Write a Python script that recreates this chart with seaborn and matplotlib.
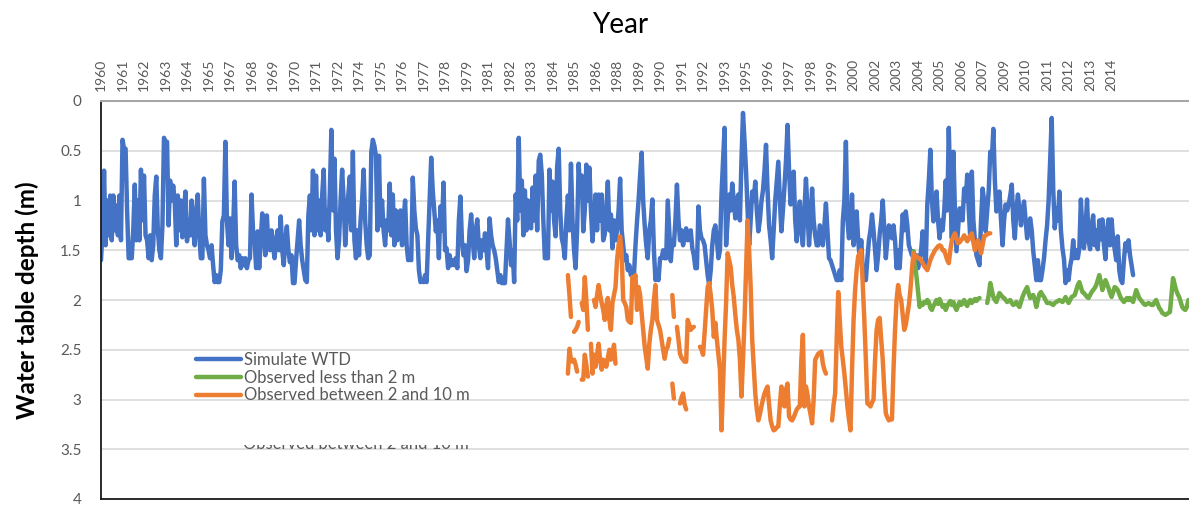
import numpy as np
import pandas as pd
import matplotlib
matplotlib.use("Agg")
import matplotlib.pyplot as plt
from matplotlib.lines import Line2D
from matplotlib.transforms import Bbox
import seaborn as sns

nan = np.nan

# Category labels shown along the top axis (one every 14 monthly steps)
year_labels = ["1960", "1961", "1962", "1963", "1964", "1965", "1967", "1968",
               "1969", "1970", "1971", "1972", "1974", "1975", "1976", "1977",
               "1978", "1979", "1981", "1982", "1983", "1984", "1985", "1986",
               "1988", "1989", "1990", "1991", "1992", "1993", "1995", "1996",
               "1997", "1998", "1999", "2000", "2002", "2003", "2004", "2005",
               "2006", "2007", "2009", "2010", "2011", "2012", "2013", "2014"]
label_step = 14

depth_ticks = [0, 0.5, 1, 1.5, 2, 2.5, 3, 3.5, 4]
depth_labels = ["0", "0.5", "1", "1.5", "2", "2.5", "3", "3.5", "4"]

# Simulated water table depth (m), monthly, starting at month 0
sim_wtd_a = [
    1.60, 1.30, 0.70, 1.45, 1.00, 1.35, 0.95, 1.40, 0.95, 1.30,
    1.05, 1.35, 0.95, 1.40, 0.39, 0.48, 0.48, 1.10, 1.58, 1.58,
    1.58, 1.30, 0.84, 1.40, 1.00, 1.40, 0.69, 1.20, 0.75, 1.35,
    1.40, 1.58, 1.35, 1.60, 1.45, 0.95, 0.76, 1.30, 1.50, 1.58,
    1.25, 0.37, 0.41, 0.41, 1.25, 0.80, 1.00, 0.85, 1.00, 1.45,
    0.95, 1.30, 1.00, 1.37, 1.10, 0.91, 1.41, 1.20, 1.35, 1.00,
    1.30, 1.45, 1.10, 0.94, 1.35, 1.58, 1.58, 0.78, 1.35, 1.45,
    1.50, 1.58, 1.45, 1.65, 1.82, 1.75, 1.82, 1.82, 1.70, 1.21,
    1.15, 0.41, 1.20, 1.45, 1.18, 1.58, 1.30, 0.81, 1.45, 1.60,
    1.55, 1.68, 1.58, 1.65, 1.58, 1.68, 1.60, 1.58, 0.94, 1.31,
    1.40, 1.68, 1.31, 1.68, 1.40, 1.13, 1.30, 1.55, 1.15, 1.45,
    1.50, 1.30, 1.45, 1.58, 1.40, 1.30, 1.50, 1.16, 1.50, 1.65,
    1.40, 1.26, 1.50, 1.62, 1.55, 1.83, 1.83, 1.60, 1.40, 1.20,
    1.45, 1.60, 1.70, 1.80, 1.82, 1.15, 0.95, 1.30, 0.70, 1.35,
    0.75, 1.30, 1.00, 1.35, 0.95, 0.69, 1.30, 1.10, 1.40, 0.90,
    0.29, 1.10, 0.58, 1.30, 1.58, 1.40, 1.00, 0.69, 1.00, 1.45,
]
sim_wtd_b = [
    1.20, 0.95, 0.76, 1.30, 0.51, 1.40, 1.58, 1.30, 1.55, 1.20,
    1.00, 0.69, 1.20, 1.45, 1.58, 1.55, 0.51, 0.39, 0.45, 0.55,
    1.30, 0.55, 1.25, 1.00, 1.30, 1.45, 1.20, 1.30, 0.83, 1.35,
    0.94, 1.45, 1.10, 1.40, 1.30, 1.10, 1.45, 1.20, 1.00, 1.45,
    1.60, 1.58, 1.60, 0.77, 1.10, 1.28, 1.35, 1.70, 1.82, 1.80,
    1.82, 1.75, 1.82, 1.40, 1.00, 0.57, 0.90, 1.10, 1.31, 1.20,
    1.58, 1.06, 1.30, 0.82, 1.50, 1.48, 1.68, 1.55, 1.65, 1.60,
    1.65, 1.58, 1.68, 1.20, 0.96, 1.40, 1.55, 1.45, 1.71, 1.60,
    1.30, 1.14, 1.40, 1.58, 1.30, 1.19, 1.45, 1.58, 1.40, 1.50,
    1.33, 1.50, 1.68, 1.18, 1.35, 1.45, 1.50, 1.58, 1.70, 1.82,
    1.75, 1.83, 1.83, 1.83, 1.50, 1.19, 1.40, 1.65, 1.50, 1.82,
    0.94, 1.20, 0.37, 1.10, 0.80, 1.35, 0.90, 1.30, 1.00, 1.20,
    1.28, 0.87, 1.20, 0.75, 1.30, 0.60, 0.54, 0.74, 1.20, 1.58,
    1.58, 1.58, 0.69, 1.10, 0.81, 1.20, 1.36, 0.66, 0.48, 1.10,
    1.38, 1.45, 1.58, 1.20, 0.95, 1.30, 0.63, 1.20, 1.50, 1.68,
    1.30, 0.63, 0.90, 0.75, 1.31, 1.10, 0.64, 1.00, 0.67, 1.10,
]
sim_wtd_c = [
    1.41, 1.20, 0.94, 1.30, 0.94, 1.20, 0.94, 1.40, 1.34, 1.10,
    0.81, 1.30, 1.14, 1.48, 1.20, 1.40, 1.30, 1.10, 0.78, 1.30,
    1.45, 1.60, 1.55, 1.70, 1.65, 1.75, 1.70, 1.75, 1.45, 1.21,
    1.00, 0.75, 0.52, 1.00, 1.25, 1.45, 1.58, 1.30, 1.20, 0.99,
    1.50, 1.80, 1.70, 1.80, 1.58, 1.58, 1.50, 1.58, 1.58, 1.00,
    1.30, 1.61, 1.40, 1.45, 1.20, 0.84, 1.20, 1.40, 1.30, 1.45,
    1.35, 1.28, 1.40, 1.38, 1.30, 1.48, 1.55, 1.68, 1.68, 1.06,
    1.30, 1.38, 1.40, 1.45, 1.60, 1.75, 1.85, 1.70, 1.45, 1.30,
    1.25, 1.40, 1.58, 1.50, 0.94, 0.60, 0.27, 1.45, 1.20, 0.94,
    1.10, 0.83, 1.00, 1.18, 1.00, 0.94, 1.20, 0.60, 0.12, 0.40,
    0.71, 1.10, 1.45, 1.20, 0.91, 1.00, 0.81, 1.10, 1.31, 1.20,
    1.01, 0.90, 0.70, 0.44, 0.90, 1.25, 1.40, 1.58, 1.30, 1.00,
    0.80, 0.61, 1.00, 1.31, 1.10, 0.86, 0.60, 0.24, 0.70, 1.04,
    0.90, 0.71, 1.20, 1.41, 1.20, 1.01, 1.30, 1.45, 1.10, 0.78,
    1.10, 1.45, 1.20, 0.88, 1.20, 1.35, 1.45, 1.45, 1.25, 1.35,
    1.45, 1.25, 1.03, 1.30, 1.58, 1.60, 1.65, 1.70, 1.75, 1.80,
]
sim_wtd_d = [
    1.80, 1.70, 1.80, 1.21, 1.00, 0.41, 1.20, 1.38, 1.20, 0.94,
    1.45, 1.30, 1.11, 1.40, 1.58, 1.40, 1.70, 1.80, 1.80, 1.58,
    1.40, 1.30, 1.14, 1.30, 1.50, 1.70, 1.55, 1.34, 1.20, 1.00,
    1.30, 1.58, 1.40, 1.25, 1.30, 1.38, 1.25, 1.40, 1.68, 1.50,
    1.68, 1.40, 1.14, 1.30, 1.11, 1.25, 1.45, 1.50, 1.55, 1.51,
    1.60, 1.55, 1.68, 1.60, 1.50, 1.31, 1.50, 1.65, 1.04, 0.80,
    0.49, 1.00, 1.21, 1.10, 0.91, 1.20, 1.38, 1.20, 1.30, 1.11,
    0.80, 1.10, 0.27, 0.90, 1.38, 0.51, 1.10, 1.51, 1.30, 1.08,
    1.08, 1.20, 0.88, 1.00, 0.74, 1.10, 1.38, 0.71, 1.20, 1.40,
    1.55, 1.60, 1.65, 1.20, 0.88, 1.00, 1.31, 1.10, 0.90, 0.51,
    0.60, 0.28, 0.80, 1.11, 1.00, 0.91, 1.20, 1.45, 1.20, 1.04,
    1.10, 1.04, 0.95, 0.84, 1.20, 1.38, 1.10, 0.94, 1.10, 1.25,
    1.10, 1.01, 1.20, 1.38, 1.25, 1.18, 1.30, 1.51, 1.65, 1.80,
    1.60, 1.80, 1.80, 1.70, 1.58, 1.40, 1.25, 1.00, 0.60, 0.17,
    0.89, 1.28, 1.08, 1.20, 0.91, 1.30, 1.48, 1.59, 1.83, 1.70,
    1.80, 1.66, 1.58, 1.40, 1.58, 1.50, 1.58, 1.48, 0.99, 1.30,
    1.48, 1.30, 0.99, 1.40, 1.49, 1.25, 1.15, 1.45, 1.30, 1.49,
    1.20, 1.39, 1.19, 1.45, 1.59, 1.30, 1.19, 1.45, 1.19, 1.39,
    1.49, 1.60, 1.36, 1.70, 1.80, 1.83, 1.60, 1.43, 1.50, 1.40,
    1.55, 1.65, 1.75,
]
sim_start = 0

# Observed depth, wells shallower than 2 m (starts at month 529)
obs_shallow_start = 529
obs_shallow = [
    1.51, 1.65, 1.77, 1.92, 2.07, 2.03, 2.05, 2.02, 2.03, 2.00,
    2.02, 2.08, 2.10, 2.06, 2.03, 2.00, 2.04, 1.99, 2.03, 2.07,
    2.05, 2.10, 2.06, 2.03, 2.01, 2.05, 2.02, 2.07, 2.10, 2.06,
    2.02, 2.05, 2.03, 2.00, 2.04, 2.06, 2.02, 2.00, 2.03, 2.01,
    1.99, 2.01, 1.99, 1.98, nan, nan, nan, nan,
    2.03, 1.95, 1.83, 1.90, 1.97, 2.00, 2.02, 1.97, 1.93, 1.95,
    1.97, 1.98, 2.00, 2.02, 2.01, 2.00, 2.03, 2.05, 2.04, 2.02,
    2.05, 2.07, 2.02, 1.97, 1.93, 1.90, 1.87, 1.93, 1.98, 1.96,
    1.95, 2.00, 2.07, 2.00, 1.94, 1.92, 1.95, 1.97, 2.00, 2.03,
    2.03, 2.03, 2.04, 2.05, 2.03, 2.02, 2.01, 2.00, 2.01, 2.02,
    2.00, 1.97, 2.00, 2.03, 2.00, 1.97, 1.96, 1.95, 1.90, 1.85,
    1.82, 1.87, 1.92, 1.93, 1.95, 1.97, 1.98, 1.95, 1.92, 1.90,
    1.88, 1.85, 1.80, 1.75, 1.82, 1.90, 1.85, 1.80, 1.84, 1.88,
    1.93, 1.97, 1.92, 1.87, 1.88, 1.90, 1.94, 1.98, 2.00, 2.02,
    2.00, 1.98, 2.00, 1.98, 2.00, 2.02, 1.96, 1.90, 1.94, 1.98,
    2.00, 2.02, 2.04, 2.05, 2.04, 2.03, 2.04, 2.05, 2.05, 2.02,
    2.00, 2.04, 2.08, 2.10, 2.13, 2.14, 2.15, 2.14, 2.13, 2.12,
    1.95, 1.78, 1.84, 1.90, 1.94, 1.97, 2.02, 2.07, 2.09, 2.10,
    2.07, 2.00,
]

# Observed depth, wells between 2 and 10 m (starts at month 304)
obs_deep_start = 304
obs_deep = [
    1.75, 1.95, 2.17, nan, 2.32, 2.30, 2.27, 2.22, nan, 2.03,
    2.10, 1.77, 2.00, 2.30, nan, nan, nan, 2.00, 2.07, 1.95,
    1.85, 1.95, 2.03, 2.10, 2.20, 2.05, 1.98, 2.20, 2.30, 2.03,
    1.95, 1.87, 1.60, 1.45, 1.36, 1.53, 2.00, 2.03, 2.07, 2.20,
    2.22, 2.23, 1.77, 1.80, 1.75, 2.10, 1.87, 1.95, 2.13, 2.30,
    2.47, 2.58, 2.69, 2.44, 2.30, 2.20, 2.00, 1.85, 2.20, 2.25,
    2.30, 2.40, 2.50, 2.59, 2.50, 2.47, 2.39, nan, 1.95, 2.17,
    nan, 2.27, 2.40, 2.54, 2.58, 2.60, 2.62, 2.62, 2.20, 2.25,
    2.30, 2.28, 2.27, nan, nan, nan, 2.47, 2.50, 2.55, 2.33,
    2.10, 1.87, 1.83, 1.95, 2.10, 2.37, 2.23, 2.40, 2.55, 2.70,
    3.31, 2.87, 2.40, 2.03, 1.53, 1.60, 1.67, 1.85, 1.97, 2.15,
    2.30, 2.40, 2.60, 2.97, 2.60, 2.20, 1.70, 1.20, 1.50, 1.87,
    2.40, 2.67, 2.94, 3.10, 3.21, 3.15, 3.07, 3.00, 2.94, 2.90,
    2.87, 3.05, 3.21, 3.27, 3.31, 3.30, 3.28, 3.27, 3.05, 2.87,
    2.97, 3.07, 2.90, 2.84, 3.17, 3.20, 3.21, 3.18, 3.14, 3.10,
    3.08, 3.07, 2.60, 2.35, 3.07, 2.87, 2.95, 3.07, 3.15, 3.24,
    3.00, 2.60, 2.57, 2.54, 2.53, 2.52, 2.64, 2.70, 2.74, nan,
    nan, nan, 3.21, 3.05, 2.94, 2.40, 1.92, 2.20, 2.47, 2.60,
    2.74, 2.90, 3.07, 3.20, 3.31, 2.70, 2.20, 1.90, 1.70, 1.56,
    1.53, 1.50, 1.85, 2.20, 2.60, 3.04, 3.05, 3.07, 3.03, 3.00,
    2.60, 2.30, 2.20, 2.18, 2.40, 2.60, 2.90, 3.14, 3.18, 3.21,
    3.20, 3.20, 2.70, 2.30, 2.00, 1.85, 1.95, 2.00, 2.15, 2.30,
    2.25, 2.15, 2.05, 1.90, 1.70,
    1.53, 1.55, 1.56, 1.58, 1.58, 1.60, 1.63, 1.66, 1.68, 1.70,
    1.65, 1.60, 1.56, 1.53, 1.50, 1.48, 1.46, 1.45, 1.46, 1.50,
    1.50, 1.55, 1.60, 1.63, 1.50, 1.40, 1.36, 1.33, 1.38, 1.43,
    1.42, 1.40, 1.38, 1.35, 1.38, 1.41, 1.38, 1.35, 1.33, 1.42,
    1.50, 1.45, 1.40, 1.45, 1.53, 1.45, 1.36, 1.35, 1.34, 1.33,
    1.33,
]

# Second deep well, shorter and fragmentary record (starts at month 304)
obs_deep2_start = 304
obs_deep2 = (
    [2.74, 2.49, 2.60, 2.62, 2.60, 2.65, 2.72, nan, nan,
     2.80, 2.80, 2.55, 2.65, 2.77, nan,
     2.44, 2.74, 2.55, 2.67, 2.55, 2.44, 2.60, 2.70, 2.60, 2.62,
     2.67, 2.58, 2.50, 2.60, 2.55, 2.45, 2.64]
    + [nan] * 36
    + [2.84, 2.99, nan, nan, nan, 3.04, 2.98, 2.94, 3.05, 3.10]
)

n_months = 708.4

BLUE = "#4472C4"
GREEN = "#70AD47"
ORANGE = "#ED7D31"
GREY_TXT = "#595959"


def to_frame(values, start):
    v = np.asarray(values, dtype=float)
    months = np.arange(start, start + len(v))
    valid = ~np.isnan(v)
    seg = np.cumsum(~valid)
    df = pd.DataFrame({"month": months, "depth": v, "seg": seg})
    return df[valid]


sim_df = to_frame(sim_wtd_a + sim_wtd_b + sim_wtd_c + sim_wtd_d, sim_start)
shallow_df = to_frame(obs_shallow, obs_shallow_start)
deep_df = to_frame(obs_deep, obs_deep_start)
deep2_df = to_frame(obs_deep2, obs_deep2_start)

sns.set_theme(style="white")
plt.rcParams["font.family"] = ["Lato", "DejaVu Sans"]

fig = plt.figure(figsize=(11.89, 5.05), dpi=100)
ax = fig.add_axes([101 / 1189, 1 - 499 / 505, 1088 / 1189, 398 / 505])

lw = 3.2
line_kw = dict(estimator=None, units="seg", legend=False, ax=ax, linewidth=lw,
               solid_joinstyle="round", solid_capstyle="round")
sns.lineplot(data=sim_df, x="month", y="depth", color=BLUE, **line_kw)
sns.lineplot(data=shallow_df, x="month", y="depth", color=GREEN, **line_kw)
sns.lineplot(data=deep_df, x="month", y="depth", color=ORANGE, **line_kw)
sns.lineplot(data=deep2_df, x="month", y="depth", color=ORANGE, **line_kw)

ax.set_xlim(0, n_months)
ax.set_ylim(4, 0)
ax.set_xlabel("")
ax.set_ylabel("")

ax.set_yticks(depth_ticks)
ax.set_yticklabels(depth_labels)
ax.tick_params(axis="y", length=0, pad=14, labelsize=11, labelcolor=GREY_TXT)
ax.yaxis.grid(True, color="#D9D9D9", linewidth=1.2)
ax.xaxis.grid(False)
ax.set_axisbelow(True)

ax.xaxis.set_ticks_position("top")
ax.set_xticks([i * label_step for i in range(len(year_labels))])
ax.set_xticklabels(year_labels, rotation=90)
ax.tick_params(axis="x", length=0, pad=7, labelsize=10, labelcolor=GREY_TXT)

for side in ["left", "bottom"]:
    ax.spines[side].set_color("#1a1a1a")
    ax.spines[side].set_linewidth(1.3)
ax.spines["top"].set_color("#A6A6A6")
ax.spines["top"].set_linewidth(1.5)
ax.spines["right"].set_visible(False)

fig.text(620 / 1189, 1 - 25 / 505, "Year", ha="center", va="center",
         fontsize=20, color="black")
fig.text(27 / 1189, 1 - 300 / 505, "Water table depth (m)", rotation=90,
         ha="center", va="center", fontsize=17.5, fontweight="bold", color="black")

handles = [Line2D([], [], color=c, linewidth=lw) for c in (BLUE, GREEN, ORANGE)]
labels = ["Simulate WTD", "Observed less than 2 m", "Observed between 2 and 10 m"]
leg = ax.legend(handles, labels, loc="upper left",
                bbox_to_anchor=(196 / 1189, 1 - 352 / 505),
                bbox_transform=fig.transFigure, frameon=False, fontsize=12,
                handlelength=2.7, handletextpad=0.2, labelspacing=0.1,
                borderpad=0, borderaxespad=0)
for t in leg.get_texts():
    t.set_color(GREY_TXT)

# Fourth legend entry, mostly hidden below the visible ones
extra = fig.text(243 / 1189, 1 - 449 / 505, "Observed between 2 and 10 m",
                 ha="left", va="baseline", fontsize=12, color=GREY_TXT)
extra.set_clip_box(Bbox([[0, 505 - 456], [1189, 505 - 445]]))
extra.set_clip_on(True)

fig.savefig("out.png", dpi=100)
